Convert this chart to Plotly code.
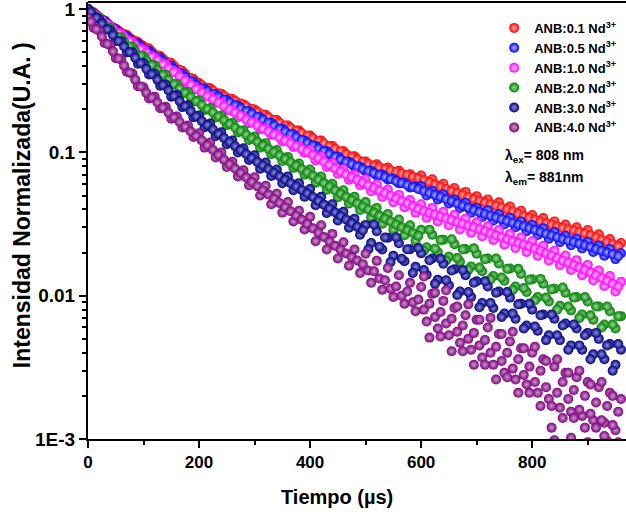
import plotly.graph_objects as go

# time axis (us): readings every 10 us, plus readings halfway in between
t_main = list(range(0, 961, 10))
t_mid = list(range(5, 960, 10))

# normalized intensity
red_01 = [1.00, 0.95, 0.87, 0.83, 0.76, 0.73, 0.68, 0.66, 0.61, 0.59,
          0.55, 0.53, 0.48, 0.47, 0.43, 0.42, 0.38, 0.37, 0.33, 0.325,
          0.305, 0.283, 0.280, 0.259, 0.257, 0.238, 0.236, 0.219, 0.216, 0.202,
          0.199, 0.184, 0.183, 0.168, 0.168, 0.153, 0.154, 0.141, 0.142, 0.130,
          0.131, 0.119, 0.121, 0.109, 0.111, 0.101, 0.102, 0.093, 0.094, 0.0855,
          0.0865, 0.0795, 0.0825, 0.0755, 0.0785, 0.0720, 0.0745, 0.0685, 0.0705, 0.0650,
          0.0690, 0.0590, 0.0650, 0.0550, 0.0605, 0.0515, 0.0565, 0.0480, 0.0530, 0.0450,
          0.0495, 0.0425, 0.0470, 0.0402, 0.0448, 0.0382, 0.0420, 0.0356, 0.0392, 0.0333,
          0.0366, 0.0313, 0.0348, 0.0297, 0.0330, 0.0282, 0.0314, 0.0270, 0.0300, 0.0258,
          0.0287, 0.0244, 0.0268, 0.0227, 0.0249, 0.0211, 0.0233]
red_01_mid = [0.97, 0.91, 0.85, 0.795, 0.745, 0.705, 0.67, 0.632, 0.60, 0.567,
              0.535, 0.505, 0.475, 0.45, 0.425, 0.40, 0.377, 0.352, 0.33, 0.31,
              0.294, 0.282, 0.27, 0.259, 0.248, 0.238, 0.228, 0.219, 0.21, 0.201,
              0.192, 0.184, 0.176, 0.168, 0.161, 0.154, 0.148, 0.142, 0.136, 0.1305,
              0.1255, 0.1205, 0.1155, 0.1105, 0.106, 0.102, 0.0975, 0.0935, 0.0895, 0.0859,
              0.083, 0.081, 0.0789, 0.0768, 0.0749, 0.073, 0.0712, 0.0694, 0.0676, 0.066,
              0.064, 0.0618, 0.0596, 0.0575, 0.0555, 0.0537, 0.052, 0.0503, 0.0487, 0.0472,
              0.0459, 0.0447, 0.0435, 0.0424, 0.0413, 0.0401, 0.0387, 0.0374, 0.0361, 0.0349,
              0.0338, 0.033, 0.0321, 0.0313, 0.0305, 0.0297, 0.0291, 0.0285, 0.0278, 0.0272,
              0.0264, 0.0255, 0.0246, 0.0237, 0.0229, 0.0222]

blue_05 = [1.00, 0.94, 0.86, 0.83, 0.75, 0.72, 0.66, 0.645, 0.59, 0.575,
           0.525, 0.51, 0.465, 0.455, 0.41, 0.40, 0.362, 0.354, 0.318, 0.31,
           0.281, 0.278, 0.255, 0.254, 0.235, 0.233, 0.213, 0.212, 0.194, 0.194,
           0.178, 0.176, 0.161, 0.161, 0.146, 0.146, 0.134, 0.134, 0.122, 0.121,
           0.112, 0.111, 0.101, 0.102, 0.093, 0.0935, 0.0855, 0.086, 0.0795, 0.0795,
           0.0735, 0.0745, 0.069, 0.070, 0.0648, 0.0655, 0.0608, 0.0615, 0.057, 0.0575,
           0.0580, 0.0500, 0.0540, 0.0470, 0.0510, 0.0440, 0.0470, 0.0410, 0.0445, 0.0380,
           0.0410, 0.0355, 0.0395, 0.0335, 0.0370, 0.0315, 0.0350, 0.0300, 0.0330, 0.0282,
           0.0312, 0.0265, 0.0295, 0.0250, 0.0278, 0.0236, 0.0262, 0.0225, 0.0250, 0.0214,
           0.0238, 0.0202, 0.0224, 0.0190, 0.0212, 0.0180, 0.0198]
blue_05_mid = [0.967, 0.904, 0.845, 0.79, 0.738, 0.693, 0.654, 0.617, 0.583, 0.55,
               0.518, 0.487, 0.459, 0.432, 0.406, 0.382, 0.358, 0.336, 0.315, 0.295,
               0.279, 0.267, 0.255, 0.244, 0.233, 0.223, 0.213, 0.203, 0.194, 0.186,
               0.177, 0.169, 0.161, 0.154, 0.146, 0.14, 0.134, 0.128, 0.122, 0.1165,
               0.1115, 0.1065, 0.102, 0.0974, 0.0932, 0.0894, 0.086, 0.0828, 0.0796, 0.0766,
               0.074, 0.0717, 0.0695, 0.0673, 0.0651, 0.0631, 0.0611, 0.0592, 0.0573, 0.0555,
               0.0537, 0.0521, 0.0505, 0.0489, 0.0473, 0.0457, 0.0441, 0.0425, 0.041, 0.0396,
               0.0383, 0.0372, 0.0362, 0.0352, 0.0342, 0.0332, 0.0323, 0.0313, 0.0305, 0.0296,
               0.0288, 0.0279, 0.0271, 0.0263, 0.0256, 0.0249, 0.0243, 0.0237, 0.0231, 0.0225,
               0.0219, 0.0212, 0.0206, 0.02, 0.0195, 0.0189]

mag_10 = [1.00, 0.93, 0.88, 0.80, 0.765, 0.69, 0.67, 0.61, 0.59, 0.535,
          0.52, 0.47, 0.46, 0.415, 0.41, 0.365, 0.36, 0.315, 0.30, 0.275,
          0.275, 0.248, 0.247, 0.222, 0.222, 0.197, 0.198, 0.176, 0.178, 0.160,
          0.162, 0.145, 0.148, 0.133, 0.135, 0.119, 0.122, 0.109, 0.111, 0.0995,
          0.104, 0.088, 0.094, 0.079, 0.0845, 0.0710, 0.0765, 0.0645, 0.0700, 0.0590,
          0.0650, 0.0535, 0.0600, 0.0490, 0.0550, 0.0450, 0.0505, 0.0415, 0.0465, 0.0380,
          0.0435, 0.0350, 0.0410, 0.0330, 0.0385, 0.0310, 0.0365, 0.0290, 0.0345, 0.0275,
          0.0325, 0.0260, 0.0305, 0.0245, 0.0287, 0.0228, 0.0270, 0.0215, 0.0255, 0.0202,
          0.0240, 0.0190, 0.0223, 0.0176, 0.0206, 0.0163, 0.0191, 0.0151, 0.0177, 0.0139,
          0.0164, 0.0128, 0.0150, 0.0117, 0.0137, 0.0107, 0.0125]
mag_10_mid = [0.965, 0.9, 0.839, 0.782, 0.728, 0.68, 0.638, 0.598, 0.561, 0.526,
              0.494, 0.465, 0.437, 0.411, 0.387, 0.363, 0.339, 0.317, 0.296, 0.277,
              0.261, 0.247, 0.234, 0.222, 0.21, 0.199, 0.189, 0.18, 0.17, 0.162,
              0.154, 0.146, 0.14, 0.133, 0.127, 0.121, 0.1155, 0.1105, 0.1055, 0.101,
              0.0963, 0.0912, 0.0863, 0.0817, 0.0773, 0.0735, 0.0703, 0.0672, 0.0643, 0.0615,
              0.0588, 0.0564, 0.0541, 0.0519, 0.0498, 0.0478, 0.0458, 0.044, 0.0421, 0.0404,
              0.039, 0.0378, 0.0368, 0.0357, 0.0347, 0.0337, 0.0327, 0.0318, 0.0308, 0.03,
              0.0291, 0.0282, 0.0273, 0.0264, 0.0256, 0.0248, 0.0241, 0.0234, 0.0227, 0.0221,
              0.0214, 0.0206, 0.0198, 0.0191, 0.0183, 0.0176, 0.017, 0.0163, 0.0157, 0.0151,
              0.0145, 0.0139, 0.0133, 0.0127, 0.0121, 0.0116]

green_20 = [1.00, 0.90, 0.87, 0.76, 0.74, 0.645, 0.63, 0.55, 0.545, 0.475,
            0.47, 0.405, 0.405, 0.345, 0.348, 0.297, 0.30, 0.259, 0.264, 0.226,
            0.231, 0.198, 0.204, 0.175, 0.181, 0.155, 0.161, 0.138, 0.143, 0.122,
            0.129, 0.108, 0.116, 0.097, 0.104, 0.087, 0.093, 0.078, 0.0835, 0.070,
            0.0760, 0.0615, 0.0680, 0.0548, 0.0605, 0.0486, 0.0545, 0.0440, 0.0490, 0.0396,
            0.0450, 0.0352, 0.0410, 0.0318, 0.0372, 0.0289, 0.0340, 0.0264, 0.0310, 0.0241,
            0.0288, 0.0218, 0.0266, 0.0202, 0.0246, 0.0187, 0.0229, 0.0173, 0.0212, 0.0160,
            0.0196, 0.0148, 0.0182, 0.0137, 0.0168, 0.0127, 0.0155, 0.0116, 0.0142, 0.0106,
            0.0130, 0.0098, 0.0121, 0.0091, 0.0112, 0.0085, 0.0105, 0.0079, 0.0098, 0.0074,
            0.0091, 0.0068, 0.0084, 0.0063, 0.0078, 0.0059, 0.0072]
green_20_mid = [0.96, 0.882, 0.812, 0.747, 0.687, 0.635, 0.59, 0.547, 0.508, 0.472,
                0.438, 0.405, 0.375, 0.347, 0.321, 0.299, 0.279, 0.261, 0.244, 0.228,
                0.214, 0.201, 0.19, 0.178, 0.168, 0.158, 0.149, 0.141, 0.133, 0.1255,
                0.1185, 0.112, 0.106, 0.1005, 0.0953, 0.0902, 0.0854, 0.0809, 0.0766, 0.0725,
                0.0686, 0.0647, 0.0611, 0.0577, 0.0544, 0.0515, 0.049, 0.0465, 0.0441, 0.0419,
                0.04, 0.038, 0.0362, 0.0345, 0.0329, 0.0314, 0.03, 0.0287, 0.0274, 0.0262,
                0.0206, 0.0289, 0.0213, 0.0245, 0.0176, 0.0248, 0.0183, 0.0211, 0.0152, 0.0214,
                0.0157, 0.0180, 0.0130, 0.0182, 0.0134, 0.0154, 0.0110, 0.0154, 0.0113, 0.0129,
                0.0093, 0.0131, 0.0097, 0.0111, 0.0080, 0.0114, 0.0084, 0.0097, 0.0070, 0.0098,
                0.0073, 0.0084, 0.0060, 0.0084, 0.0063, 0.0072]

navy_30 = [1.00, 0.89, 0.85, 0.73, 0.71, 0.60, 0.595, 0.50, 0.50, 0.415,
           0.42, 0.35, 0.355, 0.292, 0.298, 0.245, 0.252, 0.207, 0.213, 0.176,
           0.181, 0.150, 0.159, 0.130, 0.138, 0.114, 0.121, 0.100, 0.107, 0.0885,
           0.0955, 0.0770, 0.0850, 0.0685, 0.0760, 0.0610, 0.0680, 0.0545, 0.0610, 0.0490,
           0.0555, 0.0428, 0.0490, 0.0378, 0.0435, 0.0335, 0.0385, 0.0298, 0.0345, 0.0266,
           0.0312, 0.0233, 0.0282, 0.0210, 0.0254, 0.0190, 0.0232, 0.0174, 0.0211, 0.0159,
           0.0198, 0.0140, 0.0182, 0.0129, 0.0167, 0.0118, 0.0153, 0.0107, 0.0139, 0.0098,
           0.0126, 0.0089, 0.0116, 0.0082, 0.0107, 0.0075, 0.0097, 0.0069, 0.0088, 0.0062,
           0.0080, 0.0057, 0.0074, 0.0053, 0.0069, 0.0049, 0.0064, 0.0045, 0.0059, 0.0042,
           0.0055, 0.0039, 0.0050, 0.0036, 0.0046, 0.0033, 0.0042]
navy_30_mid = [0.955, 0.87, 0.792, 0.722, 0.657, 0.599, 0.548, 0.501, 0.458, 0.419,
               0.383, 0.351, 0.322, 0.295, 0.271, 0.248, 0.228, 0.21, 0.194, 0.178,
               0.1655, 0.155, 0.1445, 0.1345, 0.126, 0.118, 0.1105, 0.1037, 0.0974, 0.0913,
               0.0859, 0.0811, 0.0765, 0.0722, 0.0682, 0.0644, 0.061, 0.0578, 0.0547, 0.0518,
               0.0489, 0.0459, 0.0432, 0.0406, 0.0382, 0.036, 0.034, 0.0321, 0.0303, 0.0286,
               0.0211, 0.0314, 0.0220, 0.0255, 0.0172, 0.0256, 0.0181, 0.0211, 0.0144, 0.0215,
               0.0151, 0.0177, 0.0121, 0.0181, 0.0128, 0.0150, 0.0101, 0.0151, 0.0106, 0.0123,
               0.0083, 0.0126, 0.0089, 0.0105, 0.0071, 0.0106, 0.0075, 0.0087, 0.0059, 0.0088,
               0.0061, 0.0073, 0.0049, 0.0074, 0.0053, 0.0062, 0.0042, 0.0063, 0.0045, 0.0053,
               0.0036, 0.0055, 0.0039, 0.0045, 0.0030, 0.0046]

purple_40 = [0.87, 0.74, 0.71, 0.58, 0.56, 0.455, 0.445, 0.365, 0.355, 0.29,
             0.285, 0.238, 0.245, 0.203, 0.208, 0.172, 0.178, 0.149, 0.154, 0.128,
             0.136, 0.108, 0.117, 0.092, 0.100, 0.079, 0.086, 0.068, 0.075, 0.059,
             0.0670, 0.0500, 0.0585, 0.0435, 0.0515, 0.0380, 0.0450, 0.0330, 0.0392, 0.0290,
             0.0355, 0.0240, 0.0310, 0.0210, 0.0270, 0.0182, 0.0236, 0.0162, 0.0210, 0.0144,
             0.0196, 0.0123, 0.0175, 0.0110, 0.0156, 0.0098, 0.0139, 0.0088, 0.0123, 0.0078,
             0.0115, 0.0066, 0.0103, 0.0059, 0.0092, 0.0053, 0.0082, 0.0047, 0.0073, 0.0042,
             0.0068, 0.0037, 0.0060, 0.0033, 0.0054, 0.0029, 0.0048, 0.0026, 0.0043, 0.0024,
             0.0040, 0.0021, 0.0036, 0.0019, 0.0032, 0.00165, 0.0029, 0.00155, 0.0027, 0.00145,
             0.0025, 0.00135, 0.0023, 0.0013, 0.0021, 0.00115, 0.0019]
purple_40_mid = [0.815, 0.724, 0.643, 0.571, 0.507, 0.452, 0.403, 0.36, 0.322, 0.288,
                 0.261, 0.241, 0.223, 0.205, 0.189, 0.175, 0.163, 0.151, 0.14, 0.13,
                 0.121, 0.112, 0.104, 0.0961, 0.089, 0.0826, 0.0771, 0.0718, 0.0669, 0.0623,
                 0.0581, 0.0543, 0.0508, 0.0475, 0.0444, 0.0415, 0.0388, 0.0362, 0.0339, 0.0317,
                 0.0295, 0.0275, 0.0257, 0.0239, 0.0223, 0.0209, 0.0197, 0.0186, 0.0176, 0.0166,
                 0.0150, 0.0148, 0.0132, 0.0128, 0.0112, 0.0116, 0.0100, 0.0107, 0.0090, 0.0094,
                 0.0080, 0.0088, 0.0071, 0.0077, 0.0064, 0.0069, 0.0056, 0.0062, 0.0050, 0.0055,
                 0.0045, 0.0049, 0.0040, 0.0044, 0.0035, 0.0040, 0.0031, 0.0036, 0.0028, 0.0032,
                 0.0025, 0.0030, 0.0023, 0.0012, 0.0021, 0.0025, 0.0019, 0.0022, 0.0016, 0.0020,
                 0.0015, 0.0018, 0.00135, 0.0017, 0.00125, 0.00155]

# scattered purple readings in the noisy tail
purple_tail_t = list(range(605, 960, 10)) + [840, 870, 900, 930, 950]
purple_tail = [0.0136, 0.0051, 0.0105, 0.0052, 0.0109, 0.0041, 0.0084, 0.0041, 0.0087, 0.0033,
               0.0068, 0.0033, 0.0070, 0.0026, 0.0054, 0.0027, 0.0056, 0.0021, 0.0043, 0.0021,
               0.0044, 0.0017, 0.0035, 0.0017, 0.0036, 0.0014, 0.0029, 0.0014, 0.0030, 0.0012,
               0.0024, 0.0012, 0.0025, 0.00097, 0.0020, 0.00095,
               0.00098, 0.00102, 0.00095, 0.00105, 0.00092]

names = ['ANB:0.1 Nd<sup>3+</sup>', 'ANB:0.5 Nd<sup>3+</sup>', 'ANB:1.0 Nd<sup>3+</sup>',
         'ANB:2.0 Nd<sup>3+</sup>', 'ANB:3.0 Nd<sup>3+</sup>', 'ANB:4.0 Nd<sup>3+</sup>']
colors = ['#ff0000', '#0000ff', '#ff00ff', '#008000', '#000080', '#800080']
shine = ['#ffb4b4', '#b4b4ff', '#ffc8ff', '#9ad89a', '#8c8cdc', '#cc9acc']

series = [
    (t_main + t_mid, red_01 + red_01_mid),
    (t_main + t_mid, blue_05 + blue_05_mid),
    (t_main + t_mid, mag_10 + mag_10_mid),
    (t_main + t_mid, green_20 + green_20_mid),
    (t_main + t_mid, navy_30 + navy_30_mid),
    (t_main + t_mid + purple_tail_t, purple_40 + purple_40_mid + purple_tail),
]

FONT = 'Liberation Sans, Arial, sans-serif'

fig = go.Figure()
for i in range(len(series)):
    x, y = series[i]
    fig.add_trace(go.Scatter(
        x=x, y=y, mode='markers', name=names[i],
        legendgroup=str(i),
        marker=dict(size=10, color=colors[i], line=dict(width=0),
                    gradient=dict(type='radial', color=shine[i])),
    ))

fig.update_layout(
    width=626, height=517,
    margin=dict(l=88, r=0, t=2, b=78),
    paper_bgcolor='white', plot_bgcolor='white',
    font=dict(family=FONT, color='black', weight='bold'),
    showlegend=True,
    legend=dict(x=0.755, y=0.975, xanchor='left', yanchor='top',
                bgcolor='rgba(0,0,0,0)', font=dict(size=13, family=FONT, weight='bold'),
                traceorder='grouped', tracegroupgap=0, itemwidth=30),
)

fig.update_xaxes(
    range=[0, 969], tick0=0, dtick=200, automargin=False,
    showline=True, linewidth=2, linecolor='black', mirror=False,
    ticks='outside', ticklen=7, tickwidth=2, tickcolor='black',
    tickfont=dict(size=17, family=FONT, weight='bold'),
    showgrid=False, zeroline=False,
    minor=dict(ticks='outside', ticklen=4, tickwidth=2, tickcolor='black', dtick=100, showgrid=False),
)

minor_y = [m * d for d in [0.001, 0.01, 0.1] for m in range(2, 10)]
fig.update_yaxes(
    type='log', range=[-3, 0.0495], automargin=False, ticklabeloverflow='allow',
    tickmode='array', tickvals=[0.001, 0.01, 0.1, 1], ticktext=['1E-3', '0.01', '0.1', '1'],
    showline=True, linewidth=2, linecolor='black', mirror=False,
    ticks='outside', ticklen=7, tickwidth=2, tickcolor='black',
    tickfont=dict(size=19, family=FONT, weight='bold'),
    showgrid=False, zeroline=False,
    minor=dict(ticks='outside', ticklen=4, tickwidth=2, tickcolor='black',
               tickmode='array', tickvals=minor_y, showgrid=False),
)

# top frame line (the right side is cut off in the original)
fig.add_shape(type='line', xref='paper', yref='paper', x0=0, x1=1, y0=1, y1=1,
              line=dict(color='black', width=2))

fig.add_annotation(text='Tiempo (\u00b5s)', xref='paper', yref='paper', x=0.463, y=-0.133,
                   showarrow=False, xanchor='center', yanchor='middle',
                   font=dict(size=20, family=FONT, weight='bold'))
fig.add_annotation(text='Intensidad Normalizada(U.A. )', xref='paper', yref='paper',
                   x=-0.1227, y=0.535, textangle=-90, showarrow=False,
                   xanchor='center', yanchor='middle',
                   font=dict(size=23, family=FONT, weight='bold'))
fig.add_annotation(text='\u03bb<sub>ex</sub>= 808 nm', xref='paper', yref='paper',
                   x=0.771, y=0.648, showarrow=False, xanchor='left', yanchor='middle',
                   font=dict(size=14, family=FONT, weight='bold'))
fig.add_annotation(text='\u03bb<sub>em</sub>= 881nm', xref='paper', yref='paper',
                   x=0.771, y=0.597, showarrow=False, xanchor='left', yanchor='middle',
                   font=dict(size=14, family=FONT, weight='bold'))

# drop the default page margin so the figure sits at the window corner
fig.write_html('out.html', config={'displayModeBar': False},
               post_script="document.body.style.margin='0';")
